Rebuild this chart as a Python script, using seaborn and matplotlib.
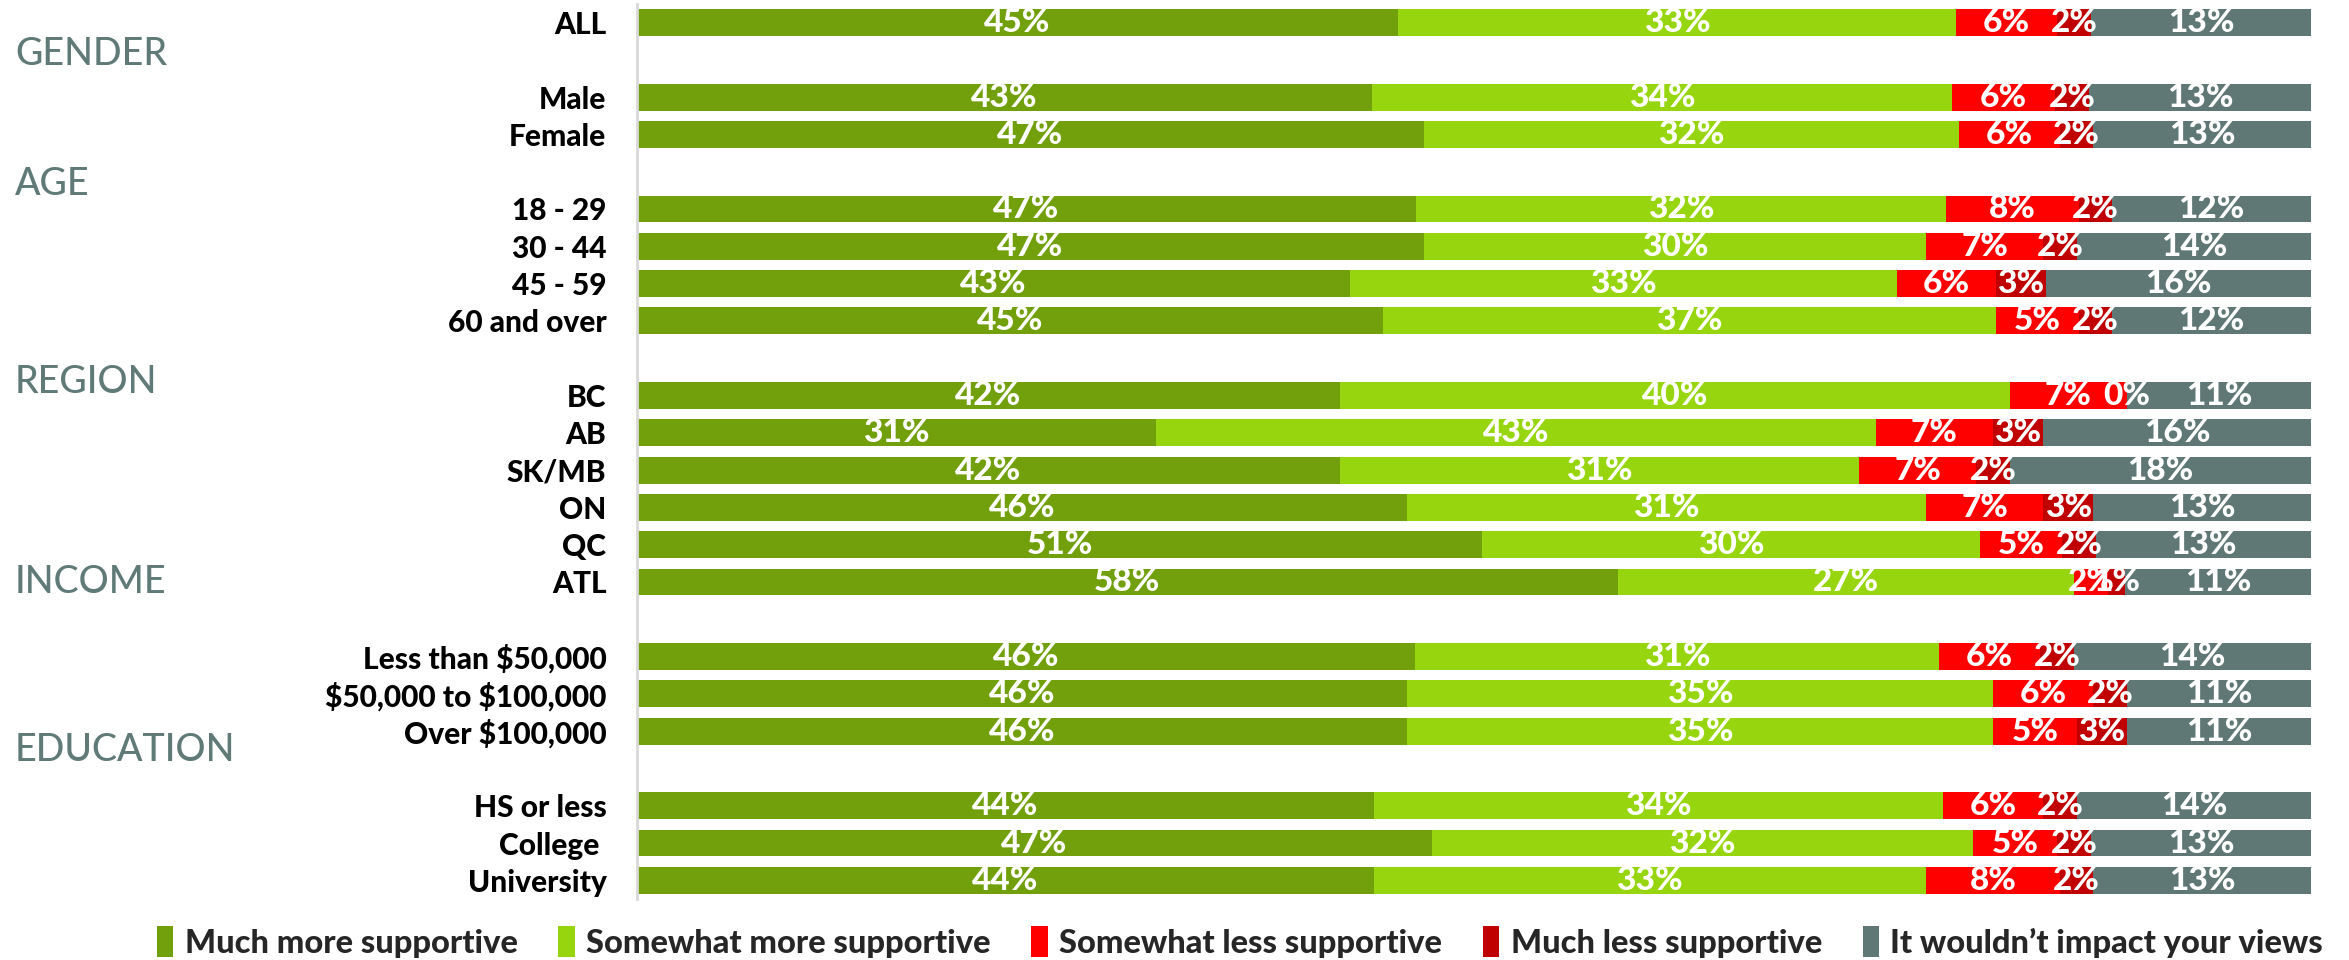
import numpy as np
import pandas as pd
import matplotlib
matplotlib.use("Agg")
import matplotlib.pyplot as plt
import matplotlib.transforms as mtransforms
from matplotlib.patches import Patch
import seaborn as sns

# ---------------- data ----------------
rows = ["ALL", "Male", "Female", "18 - 29", "30 - 44", "45 - 59", "60 and over",
        "BC", "AB", "SK/MB", "ON", "QC", "ATL",
        "Less than $50,000", "$50,000 to $100,000", "Over $100,000",
        "HS or less", "College ", "University"]
block_sizes = [1, 2, 4, 6, 3, 3]          # ALL, gender, age, region, income, education
group_names = ["GENDER", "AGE", "REGION", "INCOME", "EDUCATION"]

much_more     = [45, 43, 47, 47, 47, 43, 45, 42, 31, 42, 46, 51, 58, 46, 46, 46, 44, 47, 44]
somewhat_more = [33, 34, 32, 32, 30, 33, 37, 40, 43, 31, 31, 30, 27, 31, 35, 35, 34, 32, 33]
somewhat_less = [6, 6, 6, 8, 7, 6, 5, 7, 7, 7, 7, 5, 2, 6, 6, 5, 6, 5, 8]
much_less     = [2, 2, 2, 2, 2, 3, 2, 0, 3, 2, 3, 2, 1, 2, 2, 3, 2, 2, 2]
no_impact     = [13, 13, 13, 12, 14, 16, 12, 11, 16, 18, 13, 13, 11, 14, 11, 11, 14, 13, 13]

series_names = ["Much more supportive", "Somewhat more supportive", "Somewhat less supportive",
                "Much less supportive", "It wouldn\u2019t impact your views"]
colors = ["#72A00C", "#97D60E", "#FF0000", "#C00000", "#5F7875"]

# ---------------- layout helpers ----------------
pos = []
p = 0
for b in block_sizes:
    for _ in range(b):
        pos.append(p)
        p += 1
    p += 1  # blank row between blocks
pos = np.array(pos, dtype=float)

vals = np.array([much_more, somewhat_more, somewhat_less, much_less, no_impact], dtype=float)
shares = vals / vals.sum(axis=0) * 100
cum = np.cumsum(shares, axis=0)

df = pd.DataFrame({"row": rows, "pos": pos})
for i, name in enumerate(series_names):
    df[f"cum{i}"] = cum[i]

sns.set_theme(style="white")
plt.rcParams["text.parse_math"] = False
LABEL_FONT = ["Lato", "DejaVu Sans"]
plt.rcParams["font.family"] = LABEL_FONT

W, H = 2349, 960
fig = plt.figure(figsize=(W / 100, H / 100), dpi=100)
top_px, bot_px = 3.85, 899.0
left_px, right_px = 637, 2311
ax = fig.add_axes([left_px / W, 1 - bot_px / H, (right_px - left_px) / W, (bot_px - top_px) / H])

# stacked bars: draw cumulative totals from the last series down to the first
for i in range(len(series_names) - 1, -1, -1):
    sns.barplot(data=df, x=f"cum{i}", y="pos", orient="y", native_scale=True,
                color=colors[i], saturation=1, width=0.72, linewidth=0, ax=ax)

# value labels
for r in range(len(rows)):
    left = 0.0
    for i in range(len(series_names)):
        w = shares[i, r]
        ax.text(left + w / 2, pos[r], f"{int(vals[i, r])}%", ha="center", va="center",
                color="white", fontsize=24, fontweight="black")
        left += w

ax.set_xlim(0, 100)
ax.set_ylim(pos.max() + 0.5, -0.5)
ax.set_xticks([])
ax.set_yticks(pos)
ax.set_yticklabels(rows, fontsize=21.5, fontweight="black", color="black")
ax.tick_params(axis="y", length=0, pad=22)
ax.set_xlabel("")
ax.set_ylabel("")
for s in ["top", "right", "bottom"]:
    ax.spines[s].set_visible(False)
ax.spines["left"].set_color("#D9D9D9")
ax.spines["left"].set_linewidth(2)

# group headings
trans = mtransforms.blended_transform_factory(fig.transFigure, ax.transData)
group_y = [1.14, 4.62, 9.93, 15.29, 19.8]
for name, gy in zip(group_names, group_y):
    ax.text(15 / W, gy, name, transform=trans, ha="left", va="baseline",
            fontsize=27, color="#5F7A77", fontweight="medium")

handles = [Patch(facecolor=c, edgecolor="none") for c in colors]
fig.legend(handles, series_names, loc="center", bbox_to_anchor=(1240 / W, 1 - 942 / H),
           ncol=5, frameon=False, handlelength=0.5, handleheight=1.1, handletextpad=0.35,
           columnspacing=1.25, prop={"size": 23.5, "weight": "black"})

fig.savefig("out.png", dpi=100)
